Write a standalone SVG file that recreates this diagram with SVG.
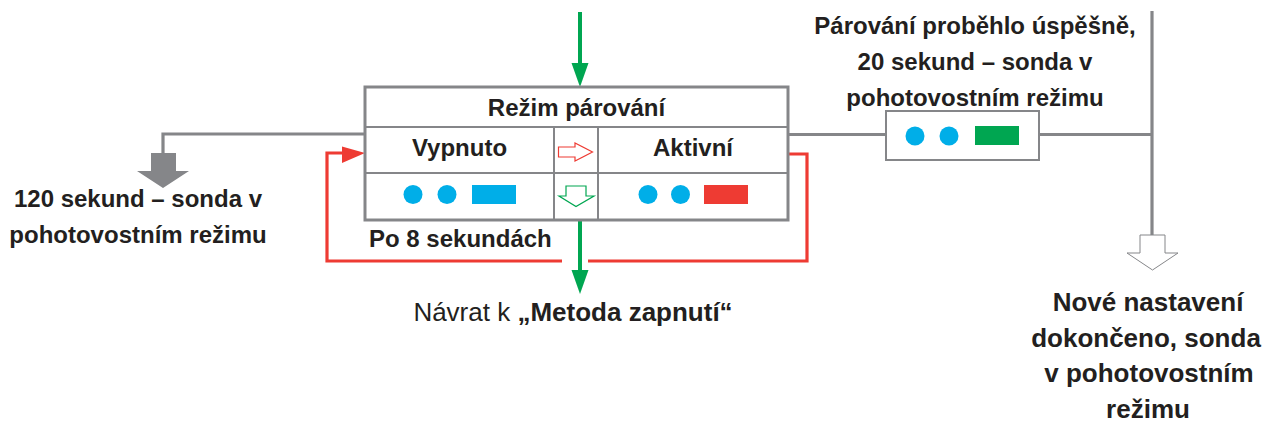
<svg xmlns="http://www.w3.org/2000/svg" width="1269" height="425" viewBox="0 0 1269 425">
  <style>
    .t { font-family: "Liberation Sans", Arial, sans-serif; font-weight: bold; font-size: 24px; fill: #231f20; }
    .big { font-size: 26px; }
    .reg { font-weight: normal; }
    .gline { fill: none; stroke: #858689; stroke-width: 3.2; }
    .cell { fill: #ffffff; stroke: #858689; stroke-width: 2; }
    .frame { fill: none; stroke: #858689; stroke-width: 3; }
    .rline { fill: none; stroke: #ee3b33; stroke-width: 3.2; }
    .glnk { fill: none; stroke: #00a651; stroke-width: 4; }
    .blue { fill: #00aee8; }
  </style>
  <rect width="1269" height="425" fill="#ffffff"/>

  <!-- connectors -->
  <g id="connectors">
    <!-- gray line to the left standby arrow -->
    <polyline class="gline" points="365,134 163,134 163,154"/>
    <polygon points="151,153 176,153 176,171 189,171 163,188 137,171 151,171" fill="#858689"/>
    <!-- gray line to the right, through the success box, to the vertical bus -->
    <line class="gline" x1="788" y1="134.5" x2="1152" y2="134.5"/>
    <line class="gline" x1="1152" y1="11" x2="1152" y2="236"/>
    <polygon points="1140,235 1165,235 1165,253 1178,253 1152.5,270 1127,253 1140,253" fill="#ffffff" stroke="#858689" stroke-width="1"/>
    <!-- green entry arrow -->
    <line class="glnk" x1="580" y1="12" x2="580" y2="65"/>
    <polygon points="571.5,63 588.5,63 580,87" fill="#00a651"/>
    <!-- green exit arrow -->
    <line class="glnk" x1="580" y1="220" x2="580" y2="272"/>
    <polygon points="571.5,270 588.5,270 580,294" fill="#00a651"/>
    <!-- red return loop after 8 seconds -->
    <polyline class="rline" points="562,261 327,261 327,153 344,153"/>
    <polygon points="342,146.5 365,153 342,163" fill="#ee3b33"/>
    <polyline class="rline" points="588,261 807,261 807,154 788,154"/>
  </g>

  <!-- pairing mode table -->
  <g id="pairing-mode">
    <rect class="cell" x="365" y="87" width="423" height="40"/>
    <rect class="cell" x="365" y="127" width="189" height="46"/>
    <rect class="cell" x="554" y="127" width="44" height="46"/>
    <rect class="cell" x="598" y="127" width="190" height="46"/>
    <rect class="cell" x="365" y="173" width="189" height="47"/>
    <rect class="cell" x="554" y="173" width="44" height="47"/>
    <rect class="cell" x="598" y="173" width="190" height="47"/>
    <rect class="frame" x="365" y="87" width="423" height="133"/>
    <text class="t" x="576.5" y="116" text-anchor="middle">Režim párování</text>
    <text class="t" x="459.5" y="156" text-anchor="middle">Vypnuto</text>
    <text class="t" x="693" y="156" text-anchor="middle">Aktivní</text>
    <!-- transition arrows -->
    <polygon points="558.5,147 575,147 575,143 592.5,152 575,161 575,157 558.5,157" fill="#ffffff" stroke="#ee3b33" stroke-width="1.2"/>
    <polygon points="566,186 586,186 586,196 594,196 576,206.5 559,196 566,196" fill="#ffffff" stroke="#00a651" stroke-width="1.2"/>
    <!-- LED states -->
    <circle class="blue" cx="413" cy="194.5" r="9.5"/>
    <circle class="blue" cx="447" cy="194.5" r="9.5"/>
    <rect class="blue" x="472" y="185" width="44" height="19"/>
    <circle class="blue" cx="648" cy="194.5" r="9.5"/>
    <circle class="blue" cx="680.5" cy="194.5" r="9.5"/>
    <rect x="704" y="185" width="44" height="19" fill="#ee3b33"/>
  </g>

  <g id="after-8s">
    <text class="t" x="369" y="247">Po 8 sekundách</text>
  </g>

  <g id="return">
    <text class="t big" x="573" y="321" text-anchor="middle"><tspan class="reg">Návrat k </tspan>„Metoda zapnutí“</text>
  </g>

  <g id="standby-120">
    <text class="t" x="138" y="207" text-anchor="middle">120 sekund – sonda v</text>
    <text class="t" x="138" y="243" text-anchor="middle">pohotovostním režimu</text>
  </g>

  <g id="paired-ok">
    <text class="t" x="975" y="34" text-anchor="middle">Párování proběhlo úspěšně,</text>
    <text class="t" x="975" y="70" text-anchor="middle">20 sekund – sonda v</text>
    <text class="t" x="975" y="106" text-anchor="middle">pohotovostním režimu</text>
    <rect class="cell" x="886" y="111" width="153" height="49" stroke-width="2.5"/>
    <circle class="blue" cx="915" cy="136" r="9.5"/>
    <circle class="blue" cx="949" cy="136" r="9.5"/>
    <rect x="975" y="126" width="44" height="19" fill="#00a651"/>
  </g>

  <g id="setup-done">
    <text class="t big" x="1148" y="311" text-anchor="middle">Nové nastavení</text>
    <text class="t big" x="1146" y="347" text-anchor="middle">dokončeno, sonda</text>
    <text class="t big" x="1149" y="382" text-anchor="middle">v pohotovostním</text>
    <text class="t big" x="1148" y="418" text-anchor="middle">režimu</text>
  </g>
</svg>
